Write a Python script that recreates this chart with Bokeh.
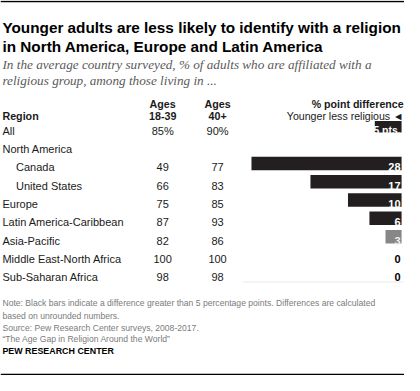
from bokeh.plotting import figure
from bokeh.models import Range1d, ColumnDataSource
from bokeh.core.properties import value
from bokeh.embed import file_html
from bokeh.resources import INLINE

# ---------------- data ----------------
title_lines = ["Younger adults are less likely to identify with a religion",
               "in North America, Europe and Latin America"]
subtitle_lines = ["In the average country surveyed, % of adults who are affiliated with a",
                  "religious group, among those living in ..."]
regions = ["All", "North America", "Canada", "United States", "Europe",
           "Latin America-Caribbean", "Asia-Pacific", "Middle East-North Africa",
           "Sub-Saharan Africa"]
indent = [0, 0, 1, 1, 0, 0, 0, 0, 0]
young = [85, None, 49, 66, 75, 87, 82, 100, 98]
older = [90, None, 77, 83, 85, 93, 86, 100, 98]
diff = [5, None, 28, 17, 10, 6, 3, 0, 0]
col_young = ["Ages", "18-39"]
col_old = ["Ages", "40+"]
diff_head = ["% point difference", "Younger less religious \u25c4"]
notes = ["Note: Black bars indicate a difference greater than 5 percentage points. Differences are calculated",
         "based on unrounded numbers.",
         "Source: Pew Research Center surveys, 2008-2017.",
         "\u201cThe Age Gap in Religion Around the World\u201d"]
brand = "PEW RESEARCH CENTER"

# ---------------- layout (reference pixel space) ----------------
W, H = 416, 389
ROW0, STEP = 131, 19
X_REG, X_IND = 2, 16
X_YOUNG, X_OLD = 167, 223.5
BAR_RIGHT, PX_PER_PT = 413, 5.52
BLACK = "#231f20"
GREY = "#878787"
TXT = "#1a1a1a"

BODY = "Liberation Sans"
SERIF = "Liberation Serif"

p = figure(width=404, height=375, x_range=Range1d(0, W), y_range=Range1d(H, 0),
           output_backend="svg", toolbar_location=None, min_border=0,
           x_axis_location=None, y_axis_location=None)
p.grid.visible = False
p.outline_line_color = None
p.background_fill_color = "white"
p.border_fill_color = "white"

p.extra_x_ranges = {"diff": Range1d(BAR_RIGHT / PX_PER_PT, (BAR_RIGHT - W) / PX_PER_PT)}


def txt(x, y, t, font=BODY, size="11px", style="normal", color=TXT,
        align="left", xr="default", xoff=0):
    p.text(x=x, y=y, text=t, text_font=value(font), text_font_size=value(size),
           text_font_style=style, text_color=color, text_align=align,
           text_baseline="alphabetic", x_range_name=xr, x_offset=xoff)


# rules
p.segment(x0=[0, 0], x1=[W, W], y0=[1, 388], y1=[1, 388], line_color="black", line_width=1.5)

# title & subtitle
txt([2] * 2, [28, 48], title_lines, size="15.3px", style="bold", color="black")
txt([2] * 2, [66.5, 82.5], subtitle_lines, font=SERIF, size="13.2px", style="italic",
    color="#5a5a5a")

# headers
txt([X_YOUNG] * 2, [107, 119.5], col_young, style="bold", align="center", size="10.7px")
txt([X_OLD] * 2, [107, 119.5], col_old, style="bold", align="center", size="10.7px")
txt([X_REG], [119.5], ["Region"], style="bold", size="10.7px")
txt([415, 415], [107, 119.5], diff_head, style=["bold", "normal"], align="right",
    size="10.6px")

n = len(regions)
row_y = [ROW0 + i * STEP for i in range(n)]
base_y = [y + 4 for y in row_y]

# region names
txt([X_IND if ind else X_REG for ind in indent], base_y, regions)

# value columns
yi = [i for i in range(n) if young[i] is not None]
txt([X_YOUNG] * len(yi), [base_y[i] for i in yi],
    [f"{young[i]}%" if i == 0 else str(young[i]) for i in yi], align="center")
txt([X_OLD] * len(yi), [base_y[i] for i in yi],
    [f"{older[i]}%" if i == 0 else str(older[i]) for i in yi], align="center")

# bars
bi = [i for i in range(1, n) if diff[i] is not None and diff[i] > 0]
src = ColumnDataSource(dict(y=[row_y[i] for i in bi], right=[diff[i] for i in bi],
                            color=[BLACK if diff[i] > 5 else GREY for i in bi]))
p.hbar(y="y", left=0, right="right", height=14, fill_color="color", line_color=None,
       source=src, x_range_name="diff")
txt([0] * len(bi), [base_y[i] for i in bi], [str(diff[i]) for i in bi], style="bold",
    color=["white" if diff[i] > 5 else "#f0f0f0" for i in bi], align="right",
    xr="diff", xoff=-1)

# "All" label box
p.hbar(y=[row_y[0]], left=0, right=[diff[0]], height=12, fill_color=BLACK, line_color=None,
       x_range_name="diff")
txt([0], [base_y[0]], [f"{diff[0]} pts."], style="bold", color="white", align="right",
    xr="diff", xoff=-1, size="10.4px")

# zero labels
zi = [i for i in range(1, n) if diff[i] == 0]
txt([0] * len(zi), [base_y[i] for i in zi], [str(diff[i]) for i in zi], style="bold",
    color="black", align="right", xr="diff", xoff=-1)

# separator
p.segment(x0=[250], x1=[415], y0=[292], y1=[292], line_color="#e8e8e8", line_width=1)

# notes
txt([2] * 4, [313.5, 327, 339.5, 351.5], notes, size="8.6px", color="#7b7b7b")
txt([2], [363.5], [brand], size="8.9px", style="bold", color="black")

open("out.html", "w").write(file_html(p, INLINE))
